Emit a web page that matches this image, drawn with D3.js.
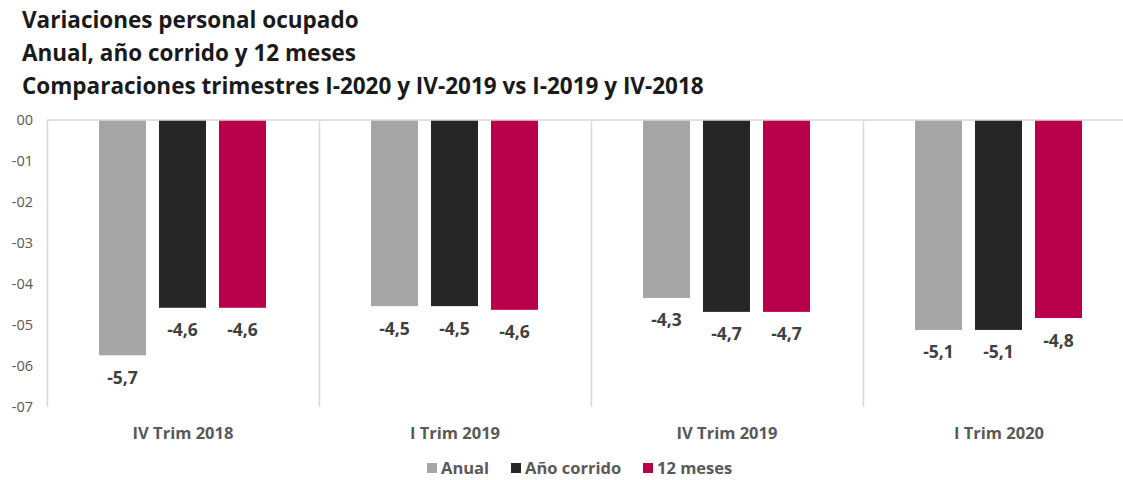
<!DOCTYPE html>
<html><head><meta charset="utf-8">
<script src="https://cdn.jsdelivr.net/npm/d3@7"></script>
<style>body{margin:0;background:#fff}svg{display:block}</style>
</head><body>
<script>
const categories = ["IV Trim 2018", "I Trim 2019", "IV Trim 2019", "I Trim 2020"];
const seriesNames = ["Anual", "Año corrido", "12 meses"];
const anual = [-5.74, -4.54, -4.34, -5.12];
const anoCorrido = [-4.58, -4.54, -4.68, -5.12];
const doceMeses = [-4.58, -4.63, -4.68, -4.83];
const labelsAnual = ["-5,7", "-4,5", "-4,3", "-5,1"];
const labelsAno = ["-4,6", "-4,5", "-4,7", "-5,1"];
const labelsDoce = ["-4,6", "-4,6", "-4,7", "-4,8"];
const yTicks = [0, -1, -2, -3, -4, -5, -6, -7];
const yTickLabels = ["00", "-01", "-02", "-03", "-04", "-05", "-06", "-07"];
const titleLines = ["Variaciones personal ocupado", "Anual, año corrido y 12 meses", "Comparaciones trimestres I-2020 y IV-2019 vs I-2019 y IV-2018"];
const colors = ["#A6A6A6", "#262626", "#B9004B"];

const W = 1123, H = 480;
const svg = d3.select("body").append("svg").attr("width", W).attr("height", H);
const font = "'Open Sans', sans-serif";

// title
svg.append("g").selectAll("text").data(titleLines).join("text")
  .attr("x", 22).attr("y", (d, i) => 28 + i * 33)
  .attr("font-family", font).attr("font-weight", 700).attr("font-size", 22.5)
  .attr("fill", "#1a1a1a").text(d => d);

const x0 = 47, catW = 272;
const x = d3.scaleBand().domain(categories).range([x0, x0 + catW * 4]).paddingInner(0).paddingOuter(0);
const y = d3.scaleLinear().domain([-7, 0]).range([407, 120]);
const xs = d3.scaleBand().domain(seriesNames).range([52, 52 + 47 * 3 + 13 * 2]).paddingInner(13 / 60).paddingOuter(0);

const series = [
  {name: seriesNames[0], values: anual, labels: labelsAnual},
  {name: seriesNames[1], values: anoCorrido, labels: labelsAno},
  {name: seriesNames[2], values: doceMeses, labels: labelsDoce}
];

// vertical separators
svg.append("g").selectAll("line").data(d3.range(5)).join("line")
  .attr("x1", i => x0 + i * catW + 0.5).attr("x2", i => x0 + i * catW + 0.5)
  .attr("y1", y(0)).attr("y2", y(-7))
  .attr("stroke", "#D9D9D9").attr("stroke-width", 1.5);

// y tick labels
svg.append("g").selectAll("text").data(yTicks).join("text")
  .attr("x", 33).attr("y", d => y(d) + 5)
  .attr("text-anchor", "end").attr("font-family", font).attr("font-size", 14.5)
  .attr("fill", "#595959").text((d, i) => yTickLabels[i]);

// bars
const groups = svg.append("g").selectAll("g").data(series).join("g");
groups.each(function(s, si) {
  const g = d3.select(this);
  categories.forEach((c, ci) => {
    const bx = x(c) + xs(s.name);
    g.append("rect")
      .attr("x", bx).attr("y", y(0))
      .attr("width", xs.bandwidth()).attr("height", y(s.values[ci]) - y(0))
      .attr("fill", colors[si]);
    g.append("text")
      .attr("x", bx + xs.bandwidth() / 2).attr("y", y(s.values[ci]) + 28.5)
      .attr("text-anchor", "middle").attr("font-family", font).attr("font-weight", 700)
      .attr("font-size", 17.5).attr("fill", "#404040").text(s.labels[ci]);
  });
});

// zero line
svg.append("line").attr("x1", x0).attr("x2", W).attr("y1", y(0)).attr("y2", y(0))
  .attr("stroke", "#D9D9D9").attr("stroke-width", 1.5);

// category labels
svg.append("g").selectAll("text").data(categories).join("text")
  .attr("x", d => x(d) + x.bandwidth() / 2).attr("y", 439)
  .attr("text-anchor", "middle").attr("font-family", font).attr("font-weight", 700)
  .attr("font-size", 16.5).attr("fill", "#595959").text(d => d);

// legend
const legendX = [427, 511, 643];
const lg = svg.append("g").selectAll("g").data(series).join("g")
  .attr("transform", (d, i) => `translate(${legendX[i]},468)`);
lg.append("rect").attr("x", 0).attr("y", -5).attr("width", 10).attr("height", 10).attr("fill", (d, i) => colors[i]);
lg.append("text").attr("x", 14).attr("y", 6).attr("font-family", font).attr("font-weight", 700)
  .attr("font-size", 16.5).attr("fill", "#595959").text(d => d.name);
</script>
</body></html>
